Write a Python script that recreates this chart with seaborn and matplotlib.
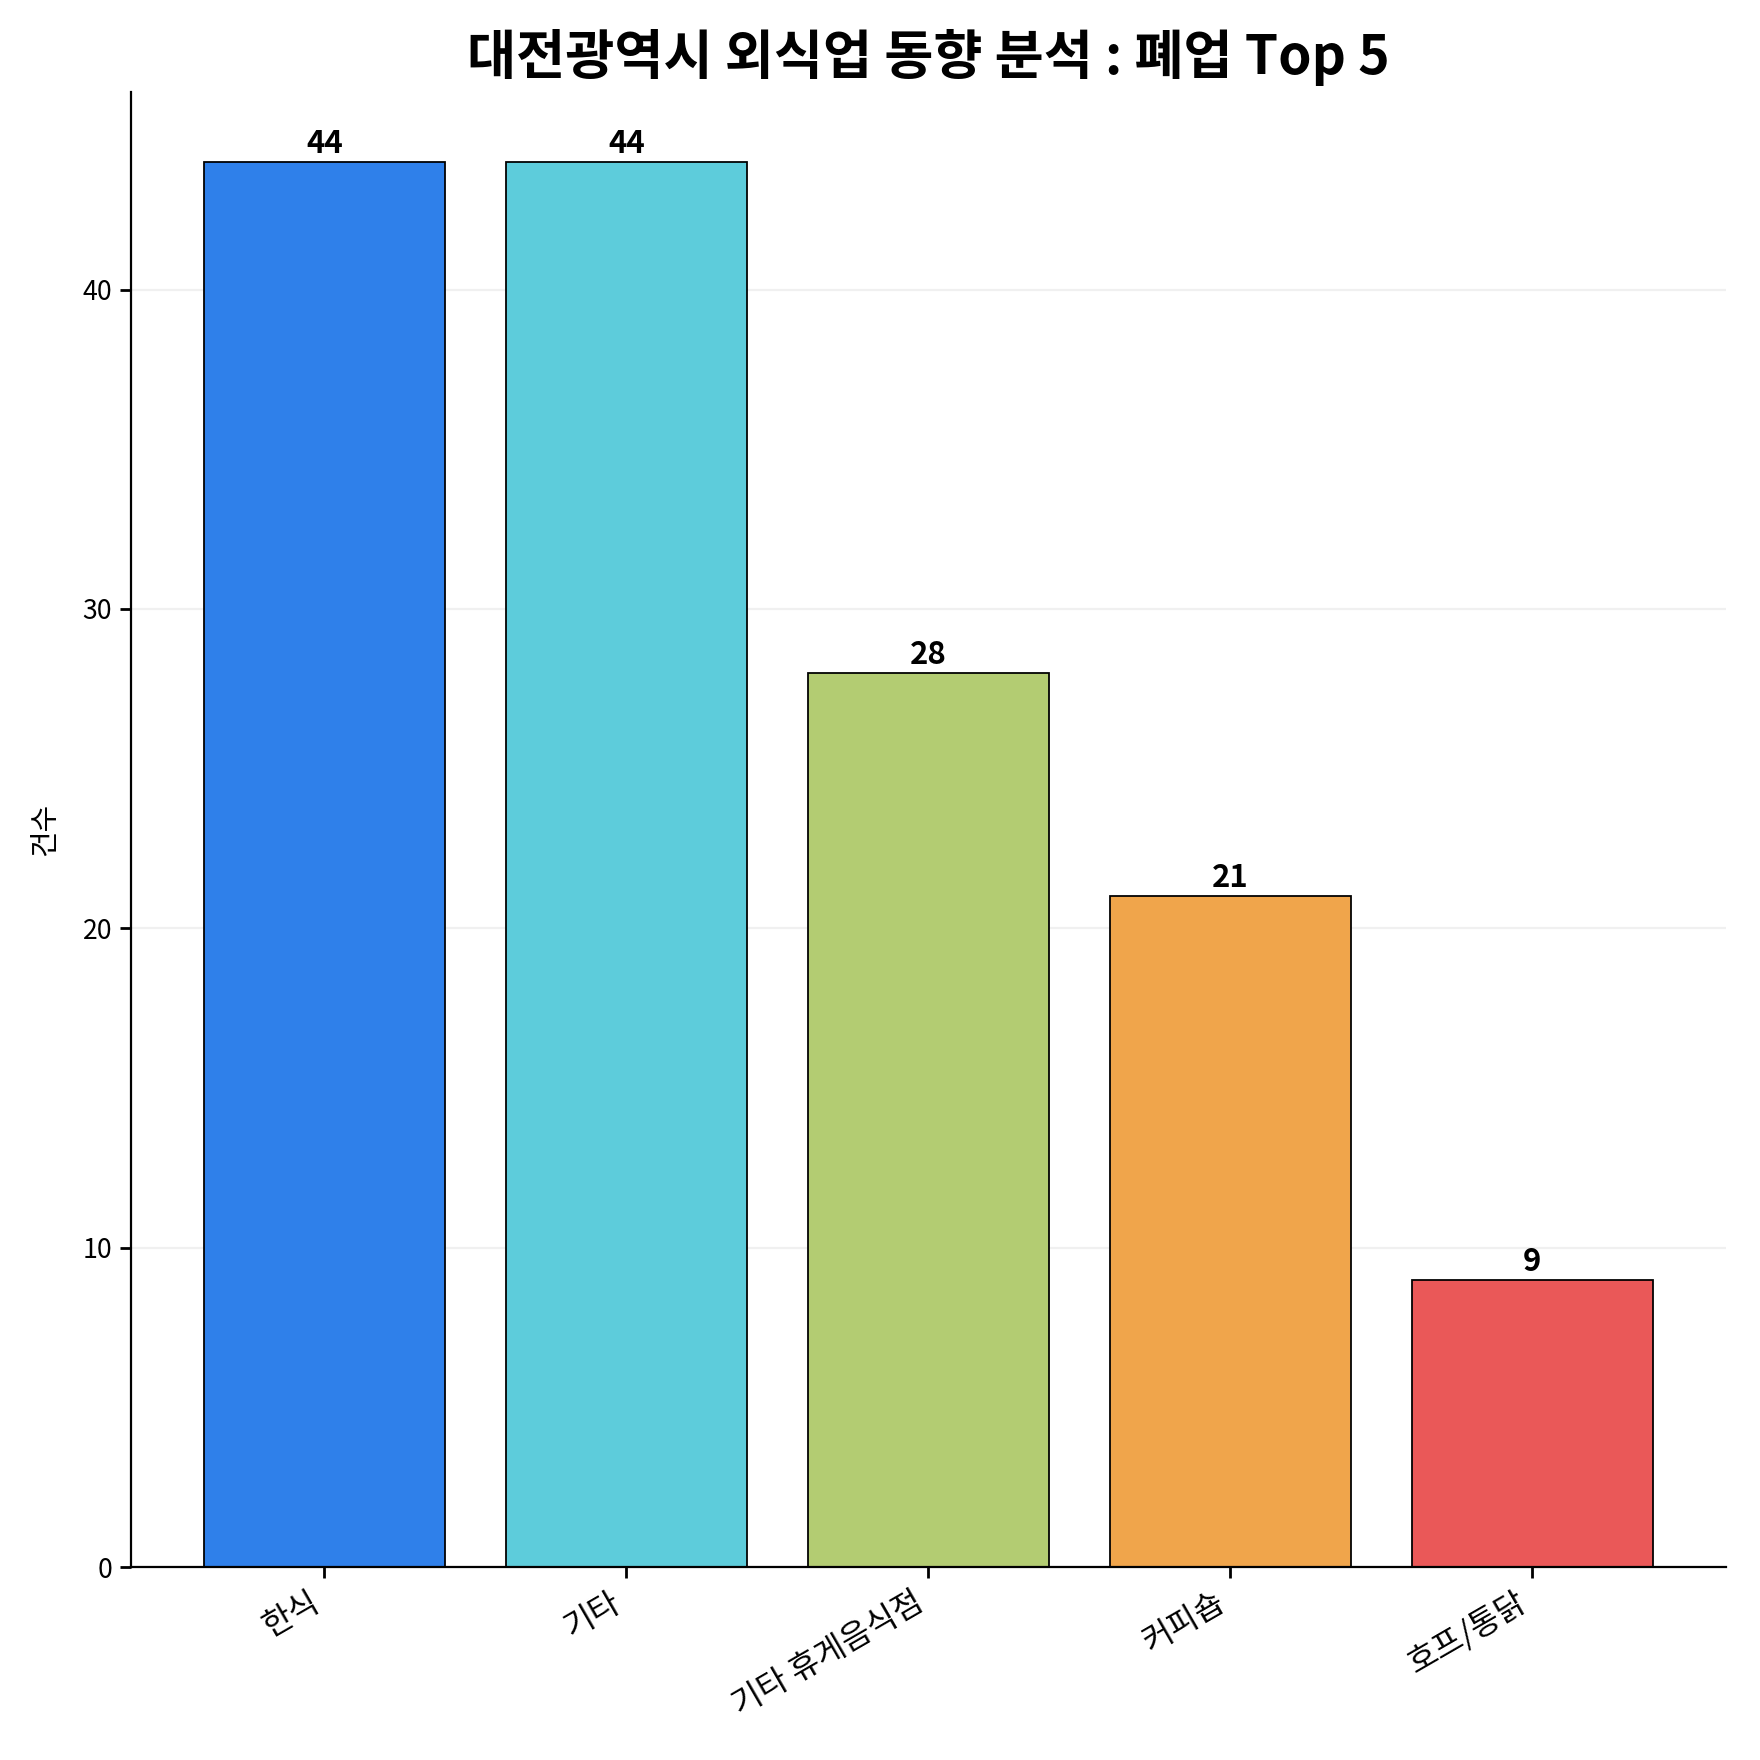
import matplotlib
matplotlib.use("Agg")
import matplotlib.pyplot as plt
import seaborn as sns
import pandas as pd

categories = ["한식", "기타", "기타 휴게음식점", "커피숍", "호프/통닭"]
counts = [44, 44, 28, 21, 9]
colors = ["#2F80EA", "#5DCCDB", "#B3CC72", "#F0A54B", "#EA5858"]

sns.set_theme(style="white")
plt.rcParams['font.family'] = ['Noto Sans CJK KR', 'DejaVu Sans']
plt.rcParams['text.color'] = 'black'
plt.rcParams['axes.labelcolor'] = 'black'
plt.rcParams['xtick.color'] = 'black'
plt.rcParams['ytick.color'] = 'black'

df = pd.DataFrame({"category": categories, "count": counts})

fig, ax = plt.subplots(figsize=(11, 11), dpi=160)
sns.barplot(data=df, x="category", y="count", hue="category", palette=colors,
            legend=False, ax=ax, width=0.8, edgecolor="black", linewidth=0.8,
            saturation=1)
ax.set_xlim(-0.64, 4.64)
ax.set_ylim(0, 46.2)
ax.yaxis.grid(True, color="#f0f0f0", linewidth=1)
ax.set_axisbelow(True)
for s in ["top", "right"]:
    ax.spines[s].set_visible(False)
for s in ["left", "bottom"]:
    ax.spines[s].set_color("black")
    ax.spines[s].set_linewidth(1.0)
ax.tick_params(axis="both", which="both", length=5, color="black", bottom=True, left=True)
ax.tick_params(axis="x", labelsize=14.5)
ax.tick_params(axis="y", labelsize=12)
for c in ax.containers:
    ax.bar_label(c, fmt="%d", fontsize=14, fontweight="bold", padding=1, color="black")
plt.setp(ax.get_xticklabels(), rotation=30, ha="right")
ax.set_xlabel("")
ax.set_ylabel("건수", fontsize=13, labelpad=10)
ax.set_title("대전광역시 외식업 동향 분석 : 폐업 Top 5", fontsize=24, fontweight="bold",
             color="black", pad=8)
fig.subplots_adjust(left=0.0745, right=0.9805, top=0.948, bottom=0.1095)
fig.savefig("out.png", dpi=160)
